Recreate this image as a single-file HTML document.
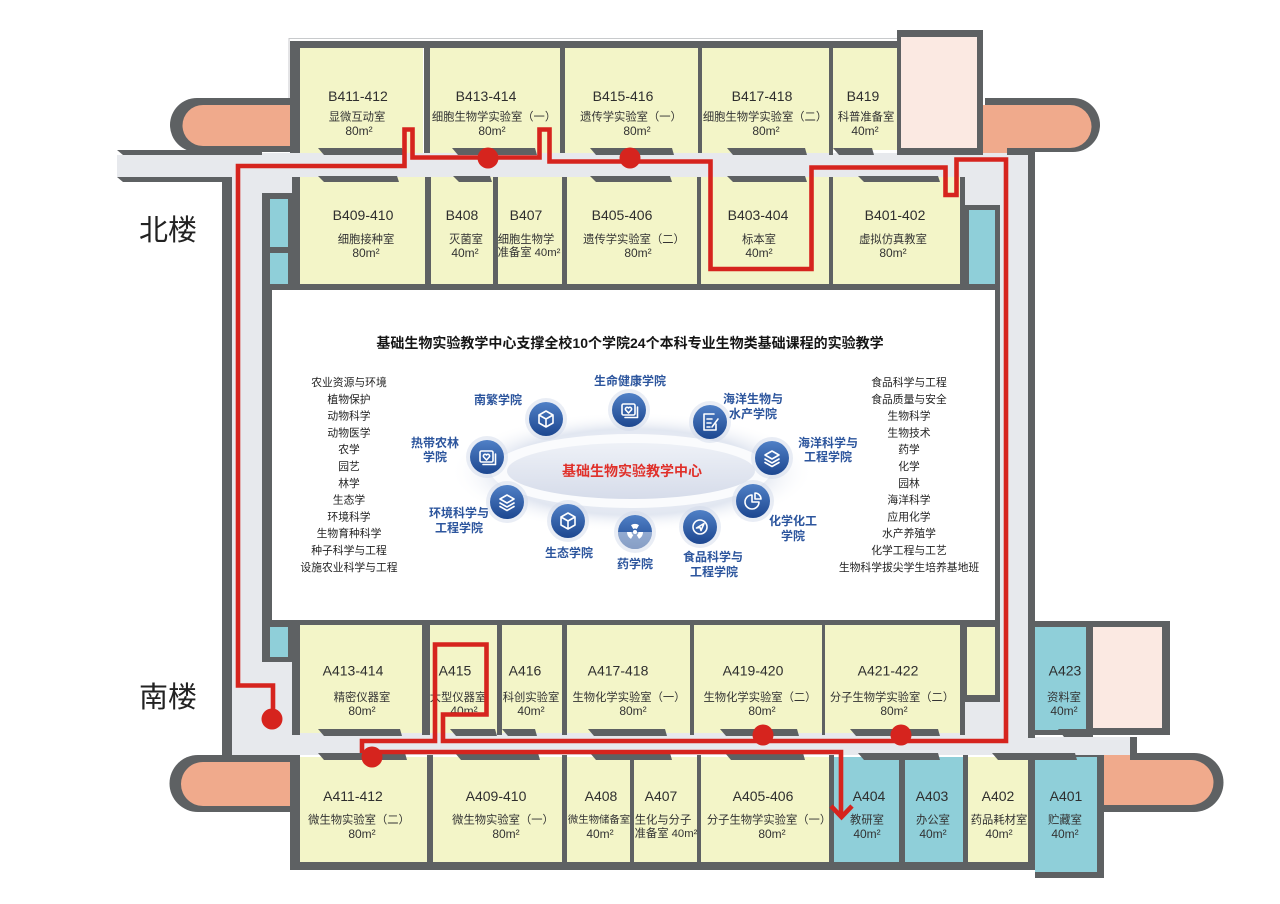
<!DOCTYPE html>
<html><head><meta charset="utf-8">
<style>
html,body{margin:0;padding:0;background:#fff;}
svg{display:block;}
text{font-family:"Liberation Sans","Noto Sans CJK SC",sans-serif;}
.c{font-size:14px;fill:#2e2e2e;text-anchor:middle;dominant-baseline:central;}
.n{font-size:11.3px;fill:#333;text-anchor:middle;dominant-baseline:central;}
.a{font-size:12px;fill:#333;text-anchor:middle;dominant-baseline:central;}
.l{font-size:10.8px;fill:#222;text-anchor:middle;dominant-baseline:central;}
.b{font-size:12px;font-weight:bold;fill:#2c559d;text-anchor:middle;dominant-baseline:central;}
.w{fill:#5e6163;}
.y{fill:#f3f5c8;}
.cy{fill:#8fcfd9;}
</style></head><body>
<svg width="1280" height="904" viewBox="0 0 1280 904" xmlns="http://www.w3.org/2000/svg">
<defs>
 <linearGradient id="ic" x1="0" y1="0" x2="0" y2="1"><stop offset="0" stop-color="#5080c6"/><stop offset="1" stop-color="#1d4790"/></linearGradient>
 <radialGradient id="halo" cx="0.5" cy="0.5" r="0.5"><stop offset="0" stop-color="#f3f5f9"/><stop offset="0.72" stop-color="#e2e7f1"/><stop offset="1" stop-color="#ffffff" stop-opacity="0"/></radialGradient>
 <linearGradient id="inner" x1="0" y1="0" x2="0" y2="1"><stop offset="0" stop-color="#eef1f7"/><stop offset="1" stop-color="#d6dcea"/></linearGradient>
</defs>
<rect width="1280" height="904" fill="#fff"/>
<path d="M289 98 V38.5 H897" fill="none" stroke="#c8cacc" stroke-width="1"/>

<!-- lobes -->
<path class="w" d="M292 98 L197 98 A27 27 0 0 0 197 152 L292 152 Z"/>
<path fill="#f0aa8c" d="M290 105 L203 105 A20.5 20.5 0 0 0 203 146 L290 146 Z"/>
<path class="w" d="M985 98 L1073 98 A27 27 0 0 1 1073 152 L985 152 Z"/>
<path fill="#f0aa8c" d="M983 105 L1070 105 A21.5 21.5 0 0 1 1070 148 L983 148 Z"/>
<rect x="983" y="147" width="24" height="9" fill="#f0aa8c"/>
<path class="w" d="M290 755 L198 755 A28.5 28.5 0 0 0 198 812 L290 812 Z"/>
<path fill="#f0aa8c" d="M290 762 L203 762 A22 22 0 0 0 203 806 L290 806 Z"/>
<path class="w" d="M1104 753 L1194 753 A29.5 29.5 0 0 1 1194 812 L1104 812 Z"/>
<path fill="#f0aa8c" d="M1104 760 L1191 760 A22.5 22.5 0 0 1 1191 805 L1104 805 Z"/>
<rect x="1103" y="752" width="30" height="9" fill="#f0aa8c"/>

<!-- corridors -->
<rect x="232" y="153" width="796" height="602" fill="#e7e9ed"/>
<rect x="117" y="155" width="115" height="22" fill="#e7e9ed"/>
<rect x="1028" y="737" width="102" height="18" fill="#e7e9ed"/>
<rect class="w" x="1130" y="737" width="7" height="23"/>
<polygon class="w" points="117,150 262,150 262,155 123,155"/>
<polygon class="w" points="117,177 222,177 222,182 123,182"/>
<rect class="w" x="1007" y="150" width="28" height="5"/>
<rect class="w" x="222" y="177" width="10" height="583"/>
<rect class="w" x="1028" y="150" width="7" height="588"/>

<!-- north top row -->
<rect class="w" x="290" y="41" width="607" height="7"/>
<rect class="w" x="290" y="41" width="10" height="112"/>
<rect class="y" x="300" y="48" width="123" height="105"/>
<rect class="y" x="430" y="48" width="130" height="105"/>
<rect class="y" x="565" y="48" width="133" height="105"/>
<rect class="y" x="702" y="48" width="127" height="105"/>
<rect class="y" x="833" y="48" width="64" height="102"/>
<rect class="w" x="424" y="48" width="6" height="105"/>
<rect class="w" x="560" y="48" width="5" height="105"/>
<rect class="w" x="698" y="48" width="4" height="105"/>
<rect class="w" x="829" y="48" width="4" height="107"/>
<rect class="w" x="897" y="30" width="86" height="125"/>
<rect fill="#fbe9e2" x="901" y="37" width="76" height="111"/>
<g class="w">
<polygon points="318,148 402,148 404,155 324,155"/>
<polygon points="452,148 535,148 537,155 458,155"/>
<polygon points="590,148 672,148 674,155 596,155"/>
<polygon points="727,148 805,148 807,155 733,155"/>
<polygon points="833,148 872,148 874,155 839,155"/>
</g>

<!-- north lower row -->
<rect class="w" x="292" y="177" width="8" height="107"/>
<rect class="y" x="300" y="177" width="125" height="107"/>
<rect class="y" x="431" y="177" width="62" height="107"/>
<rect class="y" x="498" y="177" width="64" height="107"/>
<rect class="y" x="567" y="177" width="130" height="107"/>
<rect class="y" x="701" y="177" width="128" height="107"/>
<rect class="y" x="833" y="177" width="127" height="107"/>
<rect class="w" x="425" y="177" width="6" height="107"/>
<rect class="w" x="493" y="177" width="5" height="107"/>
<rect class="w" x="562" y="177" width="5" height="107"/>
<rect class="w" x="697" y="177" width="4" height="107"/>
<rect class="w" x="829" y="177" width="4" height="107"/>
<rect class="w" x="960" y="177" width="5" height="107"/>
<rect class="w" x="965" y="205" width="35" height="80"/>
<rect class="cy" x="969" y="210" width="26" height="75"/>
<rect class="w" x="262" y="193" width="30" height="92"/>
<rect class="cy" x="270" y="199" width="18" height="48"/>
<rect class="cy" x="270" y="253" width="18" height="31"/>
<g class="w">
<polygon points="318,176 397,176 399,182 324,182"/>
<polygon points="453,176 490,176 492,182 459,182"/>
<polygon points="590,176 670,176 672,182 596,182"/>
<polygon points="727,176 805,176 807,182 733,182"/>
<polygon points="858,176 938,176 940,182 864,182"/>
</g>

<!-- center panel -->
<rect class="w" x="262" y="284" width="738" height="341"/>
<rect fill="#fff" x="272" y="290" width="723" height="330"/>

<!-- south upper row -->
<rect class="w" x="262" y="625" width="30" height="37"/>
<rect class="cy" x="270" y="627" width="18" height="30"/>
<rect class="w" x="292" y="625" width="8" height="110"/>
<rect class="y" x="300" y="625" width="122" height="108"/>
<rect class="y" x="430" y="625" width="67" height="108"/>
<rect class="y" x="502" y="625" width="60" height="108"/>
<rect class="y" x="567" y="625" width="123" height="108"/>
<rect class="y" x="694" y="625" width="128" height="108"/>
<rect class="y" x="825" y="625" width="135" height="108"/>
<rect class="w" x="422" y="625" width="8" height="110"/>
<rect class="w" x="497" y="625" width="5" height="110"/>
<rect class="w" x="562" y="625" width="5" height="110"/>
<rect class="w" x="690" y="625" width="4" height="110"/>
<rect class="w" x="822" y="625" width="3" height="110"/>
<rect class="w" x="960" y="625" width="5" height="110"/>
<rect class="w" x="960" y="625" width="40" height="77"/>
<rect class="y" x="967" y="627" width="28" height="68"/>
<rect class="w" x="1035" y="621" width="135" height="114"/>
<rect class="cy" x="1035" y="627" width="51" height="103"/>
<rect fill="#fbe9e2" x="1093" y="627" width="69" height="101"/>
<g class="w">
<polygon points="318,729 400,729 402,736 324,736"/>
<polygon points="450,729 495,729 497,736 456,736"/>
<polygon points="502,729 535,729 537,736 508,736"/>
<polygon points="588,729 665,729 667,736 594,736"/>
<polygon points="720,729 797,729 799,736 726,736"/>
<polygon points="850,729 938,729 940,736 856,736"/>
<polygon points="1058,729 1093,729 1093,737 1064,737"/>
</g>

<!-- south lower row -->
<rect class="w" x="290" y="862" width="745" height="8"/>
<rect class="w" x="290" y="755" width="10" height="115"/>
<rect class="y" x="300" y="757" width="127" height="105"/>
<rect class="y" x="433" y="757" width="129" height="105"/>
<rect class="y" x="567" y="757" width="63" height="105"/>
<rect class="y" x="634" y="757" width="63" height="105"/>
<rect class="y" x="701" y="757" width="128" height="105"/>
<rect class="cy" x="834" y="757" width="65" height="105"/>
<rect class="cy" x="905" y="757" width="58" height="105"/>
<rect class="y" x="968" y="757" width="60" height="105"/>
<rect class="w" x="427" y="755" width="6" height="113"/>
<rect class="w" x="562" y="755" width="5" height="113"/>
<rect class="w" x="630" y="755" width="4" height="113"/>
<rect class="w" x="697" y="755" width="4" height="113"/>
<rect class="w" x="829" y="755" width="5" height="113"/>
<rect class="w" x="899" y="755" width="6" height="113"/>
<rect class="w" x="963" y="755" width="5" height="113"/>
<rect class="w" x="1028" y="755" width="7" height="115"/>
<rect class="w" x="1035" y="755" width="69" height="123"/>
<rect class="cy" x="1035" y="757" width="62" height="115"/>
<g class="w">
<polygon points="318,753 405,753 407,760 324,760"/>
<polygon points="455,753 538,753 540,760 461,760"/>
<polygon points="590,753 670,753 672,760 596,760"/>
<polygon points="725,753 803,753 805,760 731,760"/>
<polygon points="858,753 938,753 940,760 864,760"/>
<polygon points="992,753 1075,753 1077,760 998,760"/>
</g>

<!-- side labels -->
<text x="168" y="231" style="font-size:29px;fill:#222;text-anchor:middle;dominant-baseline:central;">北楼</text>
<text x="168" y="698" style="font-size:29px;fill:#222;text-anchor:middle;dominant-baseline:central;">南楼</text>

<!-- room labels: north top -->
<text class="c" x="358" y="96">B411-412</text><text class="n" x="357" y="117.5">显微互动室</text><text class="a" x="359" y="131">80m²</text>
<text class="c" x="486" y="96">B413-414</text><text class="n" x="494" y="117.5">细胞生物学实验室（一）</text><text class="a" x="492" y="131">80m²</text>
<text class="c" x="623" y="96">B415-416</text><text class="n" x="631" y="117.5">遗传学实验室（一）</text><text class="a" x="637" y="131">80m²</text>
<text class="c" x="762" y="96">B417-418</text><text class="n" x="765" y="117.5">细胞生物学实验室（二）</text><text class="a" x="766" y="131">80m²</text>
<text class="c" x="863" y="96">B419</text><text class="n" x="866" y="117.5">科普准备室</text><text class="a" x="865" y="131">40m²</text>
<!-- north lower -->
<text class="c" x="363" y="215">B409-410</text><text class="n" x="366" y="240">细胞接种室</text><text class="a" x="366" y="253">80m²</text>
<text class="c" x="462" y="215">B408</text><text class="n" x="466" y="240">灭菌室</text><text class="a" x="465" y="253">40m²</text>
<text class="c" x="526" y="215">B407</text><text class="n" x="526" y="240">细胞生物学</text><text class="n" x="529" y="253">准备室 40m²</text>
<text class="c" x="622" y="215">B405-406</text><text class="n" x="634" y="240">遗传学实验室（二）</text><text class="a" x="638" y="253">80m²</text>
<text class="c" x="758" y="215">B403-404</text><text class="n" x="759" y="240">标本室</text><text class="a" x="759" y="253">40m²</text>
<text class="c" x="895" y="215">B401-402</text><text class="n" x="893" y="240">虚拟仿真教室</text><text class="a" x="893" y="253">80m²</text>
<!-- south upper -->
<text class="c" x="353" y="670.5">A413-414</text><text class="n" x="362" y="698">精密仪器室</text><text class="a" x="362" y="711">80m²</text>
<text class="c" x="455" y="670.5">A415</text><text class="n" x="458" y="698">大型仪器室</text><text class="a" x="464" y="711">40m²</text>
<text class="c" x="525" y="670.5">A416</text><text class="n" x="531" y="698">科创实验室</text><text class="a" x="531" y="711">40m²</text>
<text class="c" x="618" y="670.5">A417-418</text><text class="n" x="629" y="698">生物化学实验室（一）</text><text class="a" x="633" y="711">80m²</text>
<text class="c" x="753" y="670.5">A419-420</text><text class="n" x="760" y="698">生物化学实验室（二）</text><text class="a" x="762" y="711">80m²</text>
<text class="c" x="888" y="670.5">A421-422</text><text class="n" x="892" y="698">分子生物学实验室（二）</text><text class="a" x="894" y="711">80m²</text>
<text class="c" x="1065" y="670.5">A423</text><text class="n" x="1064" y="698">资料室</text><text class="a" x="1064" y="711">40m²</text>
<!-- south lower -->
<text class="c" x="353" y="796">A411-412</text><text class="n" x="359" y="820.5">微生物实验室（二）</text><text class="a" x="362" y="834">80m²</text>
<text class="c" x="496" y="796">A409-410</text><text class="n" x="503" y="820.5">微生物实验室（一）</text><text class="a" x="506" y="834">80m²</text>
<text class="c" x="601" y="796">A408</text><text class="n" x="599" y="820.5" style="font-size:10.4px">微生物储备室</text><text class="a" x="600" y="834">40m²</text>
<text class="c" x="661" y="796">A407</text><text class="n" x="663" y="820.5">生化与分子</text><text class="n" x="666" y="834">准备室 40m²</text>
<text class="c" x="763" y="796">A405-406</text><text class="n" x="769" y="820.5">分子生物学实验室（一）</text><text class="a" x="772" y="834">80m²</text>
<text class="c" x="869" y="796">A404</text><text class="n" x="867" y="820.5">教研室</text><text class="a" x="867" y="834">40m²</text>
<text class="c" x="932" y="796">A403</text><text class="n" x="933" y="820.5">办公室</text><text class="a" x="933" y="834">40m²</text>
<text class="c" x="998" y="796">A402</text><text class="n" x="999" y="820.5">药品耗材室</text><text class="a" x="999" y="834">40m²</text>
<text class="c" x="1066" y="796">A401</text><text class="n" x="1065" y="820.5">贮藏室</text><text class="a" x="1065" y="834">40m²</text>

<!-- panel content -->
<text x="630" y="343" style="font-size:14px;font-weight:bold;fill:#151515;text-anchor:middle;dominant-baseline:central;">基础生物实验教学中心支撑全校10个学院24个本科专业生物类基础课程的实验教学</text>

<g>
<text class="l" x="349" y="383">农业资源与环境</text>
<text class="l" x="349" y="399.8">植物保护</text>
<text class="l" x="349" y="416.6">动物科学</text>
<text class="l" x="349" y="433.4">动物医学</text>
<text class="l" x="349" y="450.2">农学</text>
<text class="l" x="349" y="467">园艺</text>
<text class="l" x="349" y="483.8">林学</text>
<text class="l" x="349" y="500.6">生态学</text>
<text class="l" x="349" y="517.4">环境科学</text>
<text class="l" x="349" y="534.2">生物育种科学</text>
<text class="l" x="349" y="551">种子科学与工程</text>
<text class="l" x="349" y="567.8">设施农业科学与工程</text>
</g>
<g>
<text class="l" x="909" y="383">食品科学与工程</text>
<text class="l" x="909" y="399.8">食品质量与安全</text>
<text class="l" x="909" y="416.6">生物科学</text>
<text class="l" x="909" y="433.4">生物技术</text>
<text class="l" x="909" y="450.2">药学</text>
<text class="l" x="909" y="467">化学</text>
<text class="l" x="909" y="483.8">园林</text>
<text class="l" x="909" y="500.6">海洋科学</text>
<text class="l" x="909" y="517.4">应用化学</text>
<text class="l" x="909" y="534.2">水产养殖学</text>
<text class="l" x="909" y="551">化学工程与工艺</text>
<text class="l" x="909" y="567.8">生物科学拔尖学生培养基地班</text>
</g>

<!-- ellipse hub -->
<ellipse cx="632" cy="472" rx="182" ry="60" fill="url(#halo)"/>
<ellipse cx="631" cy="471" rx="140" ry="37" fill="#fafbfd"/>
<ellipse cx="631" cy="471" rx="124" ry="28" fill="url(#inner)"/>
<text x="632" y="471" style="font-size:14px;font-weight:bold;fill:#e0302a;text-anchor:middle;dominant-baseline:central;">基础生物实验教学中心</text>

<!-- icons -->
<g fill="none" stroke="#fff" stroke-width="1.6" stroke-linejoin="round" stroke-linecap="round">
<g transform="translate(546,419)"><circle r="21" fill="#cfd7e8" stroke="none" opacity="0.45"/><circle r="17" fill="url(#ic)" stroke="none"/><path d="M0 -8 L7 -4 L7 4 L0 8 L-7 4 L-7 -4 Z M-7 -4 L0 0 L7 -4 M0 0 V8"/></g>
<g transform="translate(629,410)"><circle r="21" fill="#cfd7e8" stroke="none" opacity="0.45"/><circle r="17" fill="url(#ic)" stroke="none"/><rect x="-7" y="-6" width="13" height="11" rx="1.5"/><path d="M-4 7.5 H8.5 V-3"/><path d="M-0.5 3 L-3.3 0 A1.5 1.5 0 0 1 -0.5 -2 A1.5 1.5 0 0 1 2.3 0 Z"/></g>
<g transform="translate(710,422)"><circle r="21" fill="#cfd7e8" stroke="none" opacity="0.45"/><circle r="17" fill="url(#ic)" stroke="none"/><path d="M4 -8 H-6 V8 H6 V2"/><path d="M-3 -3 H2 M-3 1 H1 M-3 5 H0"/><path d="M2 5 L8 -3"/></g>
<g transform="translate(487,457)"><circle r="21" fill="#cfd7e8" stroke="none" opacity="0.45"/><circle r="17" fill="url(#ic)" stroke="none"/><rect x="-7" y="-6" width="13" height="11" rx="1.5"/><path d="M-4 7.5 H8.5 V-3"/><path d="M-0.5 3 L-3.3 0 A1.5 1.5 0 0 1 -0.5 -2 A1.5 1.5 0 0 1 2.3 0 Z"/></g>
<g transform="translate(772,458)"><circle r="21" fill="#cfd7e8" stroke="none" opacity="0.45"/><circle r="17" fill="url(#ic)" stroke="none"/><path d="M0 -7 L7 -3 L0 1 L-7 -3 Z"/><path d="M-7 1 L0 5 L7 1"/><path d="M-7 4.5 L0 8.5 L7 4.5"/></g>
<g transform="translate(507,502)"><circle r="21" fill="#cfd7e8" stroke="none" opacity="0.45"/><circle r="17" fill="url(#ic)" stroke="none"/><path d="M0 -7 L7 -3 L0 1 L-7 -3 Z"/><path d="M-7 1 L0 5 L7 1"/><path d="M-7 4.5 L0 8.5 L7 4.5"/></g>
<g transform="translate(753,501)"><circle r="21" fill="#cfd7e8" stroke="none" opacity="0.45"/><circle r="17" fill="url(#ic)" stroke="none"/><path d="M-1 -6 A7 7 0 1 0 6 1 H-1 Z"/><path d="M2 -8 A6 6 0 0 1 8 -2 H2 Z"/></g>
<g transform="translate(568,521)"><circle r="21" fill="#cfd7e8" stroke="none" opacity="0.45"/><circle r="17" fill="url(#ic)" stroke="none"/><path d="M0 -8 L7 -4 L7 4 L0 8 L-7 4 L-7 -4 Z M-7 -4 L0 0 L7 -4 M0 0 V8"/></g>
<g transform="translate(635,532)"><circle r="21" fill="#cfd7e8" stroke="none" opacity="0.45"/><circle r="17" fill="url(#ic)" stroke="none"/><path d="M-17 0 A17 17 0 0 0 17 0 Z" fill="#dfe5f1" stroke="none" opacity="0.55"/><g fill="#fff" stroke="none"><circle r="2"/><path d="M-4 -6.93 A8 8 0 0 1 4 -6.93 L1.75 -3.03 A3.5 3.5 0 0 0 -1.75 -3.03 Z"/><path d="M8 0 A8 8 0 0 1 4 6.93 L1.75 3.03 A3.5 3.5 0 0 0 3.5 0 Z"/><path d="M-4 6.93 A8 8 0 0 1 -8 0 L-3.5 0 A3.5 3.5 0 0 0 -1.75 3.03 Z"/></g></g>
<g transform="translate(700,527)"><circle r="21" fill="#cfd7e8" stroke="none" opacity="0.45"/><circle r="17" fill="url(#ic)" stroke="none"/><circle r="7"/><path d="M-3.5 1 L4 -3.5 L1 3.5 L0 0.5 Z"/></g>
</g>

<!-- college labels -->
<text class="b" x="630" y="381">生命健康学院</text>
<text class="b" x="498" y="400">南繁学院</text>
<text class="b" x="753" y="399">海洋生物与</text><text class="b" x="753" y="414">水产学院</text>
<text class="b" x="435" y="443">热带农林</text><text class="b" x="435" y="457">学院</text>
<text class="b" x="828" y="443">海洋科学与</text><text class="b" x="828" y="457">工程学院</text>
<text class="b" x="459" y="513">环境科学与</text><text class="b" x="459" y="528">工程学院</text>
<text class="b" x="793" y="521">化学化工</text><text class="b" x="793" y="536">学院</text>
<text class="b" x="569" y="553">生态学院</text>
<text class="b" x="635" y="564">药学院</text>
<text class="b" x="713" y="557">食品科学与</text><text class="b" x="714" y="572">工程学院</text>

<!-- red route -->
<g fill="none" stroke="#d6241e" stroke-width="4.6" stroke-linejoin="miter">
<path d="M362 753 V741 H435 V644.5 H486.5 V714.5 H443 V741 H1006 V159.5 H956.5 V195 H945.5 V167.5 H811.5 V269 H710.5 V161.5 H549.5 V129.5 H539.5 V157.5 H412.5 V129.5 H404.5 V166 H238 V685.5 H273 V712"/>
<path d="M372 752 H841 V815"/>
<path d="M831 806 L841.5 817 L852 806" stroke-width="4.6"/>
</g>
<g fill="#d6241e">
<circle cx="488" cy="158" r="10.5"/>
<circle cx="630" cy="158" r="10.5"/>
<circle cx="763" cy="735" r="10.5"/>
<circle cx="901" cy="735" r="10.5"/>
<circle cx="372" cy="757" r="10.5"/>
<circle cx="272" cy="719" r="10.5"/>
</g>
</svg>
</body></html>
